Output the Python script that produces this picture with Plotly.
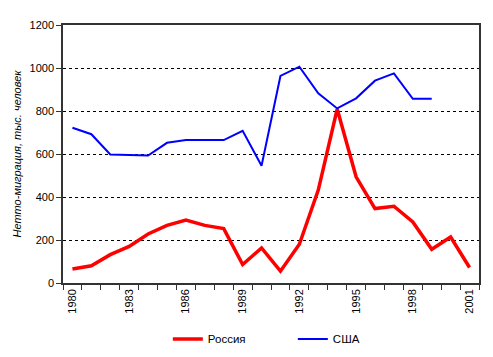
import plotly.graph_objects as go

years = list(range(1980, 2002))
russia = [65, 80, 132, 170, 228, 268, 293, 268, 253, 86, 163, 55, 180, 432, 809, 494, 346, 357, 284, 157, 214, 72]
usa = [722, 692, 598, 596, 593, 652, 665, 665, 665, 708, 545, 963, 1006, 882, 812, 859, 941, 975, 857, 857, None, None]
tick_years = [1980, 1983, 1986, 1989, 1992, 1995, 1998, 2001]
y_title = "Нетто-миграция, тыс. человек"

idx = list(range(len(years)))
font_family = "Arial, 'Liberation Sans', sans-serif"

fig = go.Figure()
fig.add_trace(go.Scatter(x=idx, y=russia, mode="lines", name="Россия",
                         line=dict(color="#FF0000", width=3.5)))
fig.add_trace(go.Scatter(x=idx, y=usa, mode="lines", name="США",
                         line=dict(color="#0000FF", width=2)))

# page body has an 8px margin, so the figure is sized/offset to compensate
fig.update_layout(
    width=485, height=349,
    margin=dict(l=55, r=14, t=17, b=74, autoexpand=False),
    paper_bgcolor="white", plot_bgcolor="white",
    font=dict(family=font_family, size=11, color="black"),
    showlegend=True,
    legend=dict(orientation="h", x=0.252, xanchor="left", y=-0.217, yanchor="middle",
                font=dict(size=11.5), bgcolor="rgba(0,0,0,0)", itemwidth=30,
                entrywidth=80, tracegroupgap=0),
)
fig.update_xaxes(
    automargin=False,
    range=[-0.5, len(years) - 0.5],
    tickmode="array",
    tickvals=[years.index(y) for y in tick_years],
    ticktext=[str(y) for y in tick_years],
    tickangle=-90,
    ticks="", showgrid=False, zeroline=False,
    showline=True, mirror=True, linecolor="#333333", linewidth=1.5,
    tickfont=dict(size=11),
    minor=dict(tickmode="linear", tick0=-0.5, dtick=1, ticks="outside", ticklen=5,
               tickcolor="#333333", showgrid=False),
)
fig.update_yaxes(
    automargin=False,
    range=[0, 1200], dtick=200, tick0=0,
    ticks="outside", ticklen=5, tickcolor="#333333",
    showgrid=True, gridcolor="black", griddash="3px,3px", gridwidth=1,
    zeroline=False, showline=True, mirror=True, linecolor="#333333", linewidth=1.5,
    tickfont=dict(size=11),
    title=dict(text=y_title, font=dict(size=11, style="italic"), standoff=6),
)

fig.write_html("out.html")
